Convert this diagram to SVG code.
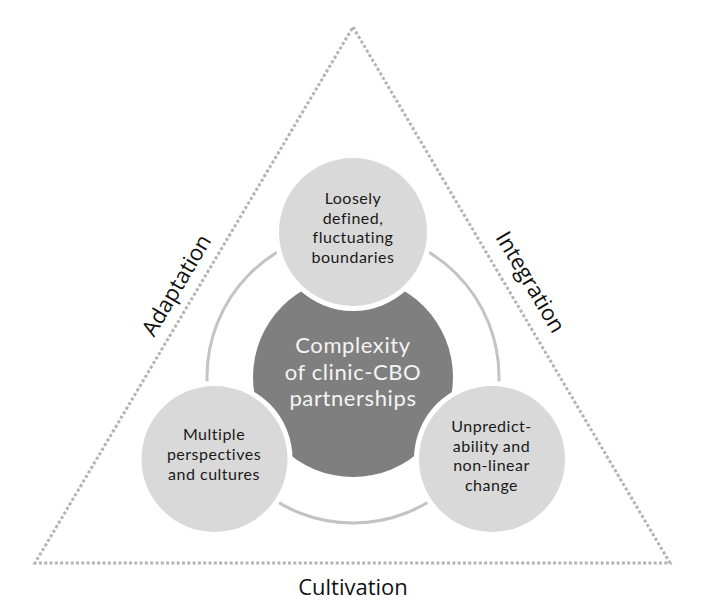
<svg xmlns="http://www.w3.org/2000/svg" width="709" height="606" viewBox="0 0 709 606">
  <style>
    .tri { fill: none; stroke: #b4b4b4; stroke-width: 3; stroke-dasharray: 3 2.3; }
    .ring { fill: none; stroke: #c3c3c3; stroke-width: 3; }
    .core { fill: #7f7f7f; }
    .bubble { fill: #d9d9d9; stroke: #ffffff; stroke-width: 10; paint-order: stroke; }
    .lbl { font-family: "Open Sans", "Noto Sans", "Liberation Sans", sans-serif; text-anchor: middle; }
    .tight { font-family: Lato, "Open Sans", "Liberation Sans", sans-serif; }
    .side { font-size: 22px; fill: #111111; }
    .node { font-size: 16px; fill: #1a1a1a; letter-spacing: 0.5px; }
    .coretext { font-size: 22px; fill: #f4f4f4; letter-spacing: 0.6px; }
  </style>
  <rect width="709" height="606" fill="#ffffff"/>
  <g id="connectors">
    <path class="tri" d="M353 27 L670 563 L35 563 Z"/>
    <circle class="ring" cx="353" cy="377" r="146"/>
  </g>
  <g id="labels">
    <text class="lbl side" transform="translate(183 289) rotate(-59.3)">Adaptation</text>
    <text class="lbl side" transform="translate(524 286) rotate(59.3)">Integration</text>
    <text class="lbl side" x="353" y="595">Cultivation</text>
  </g>
  <g id="core">
    <circle class="core" cx="353" cy="377" r="100"/>
    <text class="lbl tight coretext" x="353" y="353">Complexity</text>
    <text class="lbl tight coretext" x="353" y="380">of clinic-CBO</text>
    <text class="lbl tight coretext" x="353" y="406">partnerships</text>
  </g>
  <g id="node-boundaries">
    <circle class="bubble" cx="353" cy="232" r="74"/>
    <text class="lbl tight node" x="353" y="204">Loosely</text>
    <text class="lbl tight node" x="353" y="223.5">defined,</text>
    <text class="lbl tight node" x="353" y="243">fluctuating</text>
    <text class="lbl tight node" x="353" y="262.5">boundaries</text>
  </g>
  <g id="node-perspectives">
    <circle class="bubble" cx="214.5" cy="459" r="73"/>
    <text class="lbl tight node" x="214" y="440">Multiple</text>
    <text class="lbl tight node" x="214" y="460">perspectives</text>
    <text class="lbl tight node" x="214" y="480">and cultures</text>
  </g>
  <g id="node-unpredictability">
    <circle class="bubble" cx="492" cy="459" r="73"/>
    <text class="lbl tight node" x="491.5" y="432">Unpredict-</text>
    <text class="lbl tight node" x="491.5" y="451.5">ability and</text>
    <text class="lbl tight node" x="491.5" y="471">non-linear</text>
    <text class="lbl tight node" x="491.5" y="490.5">change</text>
  </g>
</svg>
